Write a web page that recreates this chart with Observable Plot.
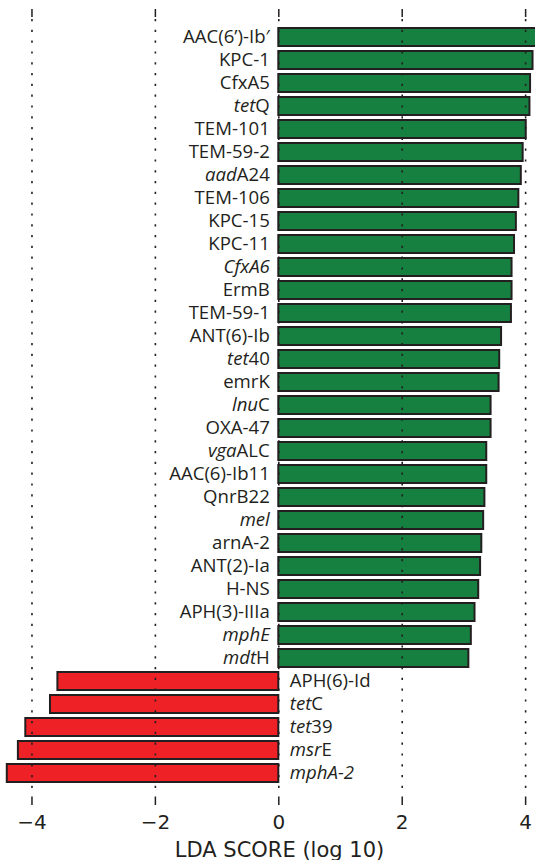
<!DOCTYPE html>
<html>
<head>
<meta charset="utf-8">
<script src="https://cdn.jsdelivr.net/npm/d3@7"></script>
<script src="https://cdn.jsdelivr.net/npm/@observablehq/plot@0.6"></script>
<style>
  html, body { margin: 0; padding: 0; background: #fff; overflow: hidden; }
  #chart svg { display: block; }
</style>
</head>
<body>
<div id="chart"></div>
<script>
// ---- data (top to bottom) ----
const genes = [
  "AAC(6’)-Ib′", "KPC-1", "CfxA5", "tetQ", "TEM-101", "TEM-59-2", "aadA24",
  "TEM-106", "KPC-15", "KPC-11", "CfxA6", "ErmB", "TEM-59-1", "ANT(6)-Ib",
  "tet40", "emrK", "lnuC", "OXA-47", "vgaALC", "AAC(6)-Ib11", "QnrB22", "mel",
  "arnA-2", "ANT(2)-Ia", "H-NS", "APH(3)-IIIa", "mphE", "mdtH",
  "APH(6)-Id", "tetC", "tet39", "msrE", "mphA-2"
];
const ldaScores = [
  4.25, 4.12, 4.08, 4.07, 4.01, 3.96, 3.93,
  3.89, 3.85, 3.82, 3.78, 3.78, 3.77, 3.61,
  3.58, 3.57, 3.44, 3.44, 3.37, 3.37, 3.34, 3.32,
  3.29, 3.27, 3.24, 3.18, 3.12, 3.08,
  -3.58, -3.70, -4.10, -4.22, -4.40
];
// italic part of each label (prefix)
const italicParts = {
  "tetQ": "tet", "aadA24": "aad", "CfxA6": "CfxA6", "tet40": "tet",
  "lnuC": "lnu", "vgaALC": "vga", "mel": "mel", "mphE": "mphE", "mdtH": "mdt",
  "tetC": "tet", "tet39": "tet", "msrE": "msr", "mphA-2": "mphA-2"
};
const xTicks = [-4, -2, 0, 2, 4];
const axisTitle = "LDA SCORE (log 10)";
const greenColor = "#15803f";
const redColor = "#ed2126";

const data = genes.map((g, i) => ({gene: g, value: ldaScores[i]}));
const pos = data.filter(d => d.value > 0);
const neg = data.filter(d => d.value < 0);

const ink = "#231f20";
const labelFont = "'Open Sans', sans-serif";
const axisFont = "'DejaVu Sans', sans-serif";

const plot = Plot.plot({
  width: 535,
  height: 860,
  marginLeft: 0,
  marginRight: 0,
  marginTop: 16,
  marginBottom: 63,
  style: {background: "#fff", color: ink},
  x: {domain: [-4.51, 4.16], axis: null},
  y: {domain: genes, axis: null, range: [20, 789.5], paddingInner: 0.22, paddingOuter: 0.11},
  marks: [
    Plot.barX(data, {
      x: "value", y: "gene",
      fill: d => d.value > 0 ? greenColor : redColor,
      stroke: ink, strokeWidth: 2, clip: true
    }),
    Plot.ruleX(xTicks, {
      stroke: ink, strokeWidth: 1.6, strokeDasharray: "2.2,8.6", strokeDashoffset: -3
    }),
    Plot.axisX(xTicks, {
      anchor: "top", tickSize: 8, tickFormat: () => "", label: null,
      stroke: ink, strokeWidth: 1.5
    }),
    Plot.axisX(xTicks, {
      anchor: "bottom", tickSize: 8, tickPadding: 9, label: null,
      stroke: ink, strokeWidth: 1.5, fill: ink,
      fontSize: 20, fontFamily: axisFont
    }),
    Plot.text(pos, {
      x: () => 0, y: "gene", text: "gene", textAnchor: "end", dx: -9,
      fontSize: 18.6, fontFamily: labelFont, fill: ink
    }),
    Plot.text(neg, {
      x: () => 0, y: "gene", text: "gene", textAnchor: "start", dx: 11,
      fontSize: 18.6, fontFamily: labelFont, fill: ink
    }),
    Plot.text([axisTitle], {
      frameAnchor: "bottom", lineAnchor: "bottom", dy: 59, dx: 11.5,
      fontSize: 21, fontFamily: axisFont, fill: ink
    })
  ]
});

// mixed italic / roman gene names
d3.select(plot).selectAll('g[aria-label="text"] text').each(function () {
  const s = this.textContent;
  const it = italicParts[s];
  if (!it) return;
  const sel = d3.select(this);
  sel.text(null);
  sel.append("tspan").attr("font-style", "italic").text(it);
  const rest = s.slice(it.length);
  if (rest) sel.append("tspan").text(rest);
});

document.getElementById("chart").appendChild(plot);
</script>
</body>
</html>
